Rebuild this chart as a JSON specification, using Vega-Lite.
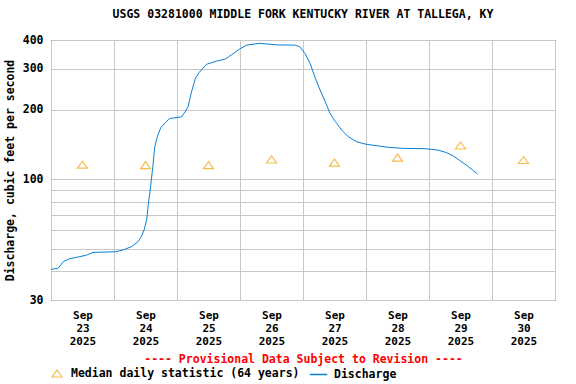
{
  "$schema": "https://vega.github.io/schema/vega-lite/v6.json",
  "autosize": {"type": "none"},
  "padding": {"left": 51, "top": 40, "right": 21, "bottom": 84},
  "width": 504,
  "height": 260,
  "background": "white",
  "config": {
    "view": {"stroke": "black", "strokeWidth": 1},
    "font": "DejaVu Sans Mono"
  },
  "title": {
    "text": "USGS 03281000 MIDDLE FORK KENTUCKY RIVER AT TALLEGA, KY",
    "font": "DejaVu Sans Mono",
    "fontSize": 11.5,
    "fontWeight": "bold",
    "color": "black",
    "anchor": "middle",
    "offset": 14
  },
  "datasets": {
    "discharge": [
      {"t": "2025-09-23T00:00:00Z", "q": 40.7, "series": "Discharge"},
      {"t": "2025-09-23T02:45:00Z", "q": 41.2, "series": "Discharge"},
      {"t": "2025-09-23T04:45:00Z", "q": 44.0, "series": "Discharge"},
      {"t": "2025-09-23T07:15:00Z", "q": 45.3, "series": "Discharge"},
      {"t": "2025-09-23T10:30:00Z", "q": 46.1, "series": "Discharge"},
      {"t": "2025-09-23T13:30:00Z", "q": 46.9, "series": "Discharge"},
      {"t": "2025-09-23T16:00:00Z", "q": 48.2, "series": "Discharge"},
      {"t": "2025-09-24T00:30:00Z", "q": 48.5, "series": "Discharge"},
      {"t": "2025-09-24T03:30:00Z", "q": 49.4, "series": "Discharge"},
      {"t": "2025-09-24T06:45:00Z", "q": 51.1, "series": "Discharge"},
      {"t": "2025-09-24T09:15:00Z", "q": 53.8, "series": "Discharge"},
      {"t": "2025-09-24T10:30:00Z", "q": 56.6, "series": "Discharge"},
      {"t": "2025-09-24T11:30:00Z", "q": 60.5, "series": "Discharge"},
      {"t": "2025-09-24T12:30:00Z", "q": 67.1, "series": "Discharge"},
      {"t": "2025-09-24T13:00:00Z", "q": 76.7, "series": "Discharge"},
      {"t": "2025-09-24T14:00:00Z", "q": 94.4, "series": "Discharge"},
      {"t": "2025-09-24T14:45:00Z", "q": 112, "series": "Discharge"},
      {"t": "2025-09-24T15:30:00Z", "q": 137.5, "series": "Discharge"},
      {"t": "2025-09-24T16:30:00Z", "q": 152.6, "series": "Discharge"},
      {"t": "2025-09-24T17:45:00Z", "q": 166.4, "series": "Discharge"},
      {"t": "2025-09-24T19:30:00Z", "q": 175.5, "series": "Discharge"},
      {"t": "2025-09-24T21:15:00Z", "q": 183, "series": "Discharge"},
      {"t": "2025-09-25T01:45:00Z", "q": 186, "series": "Discharge"},
      {"t": "2025-09-25T03:00:00Z", "q": 195, "series": "Discharge"},
      {"t": "2025-09-25T04:15:00Z", "q": 206, "series": "Discharge"},
      {"t": "2025-09-25T05:30:00Z", "q": 238, "series": "Discharge"},
      {"t": "2025-09-25T07:00:00Z", "q": 273, "series": "Discharge"},
      {"t": "2025-09-25T08:30:00Z", "q": 290, "series": "Discharge"},
      {"t": "2025-09-25T11:15:00Z", "q": 314, "series": "Discharge"},
      {"t": "2025-09-25T15:00:00Z", "q": 324, "series": "Discharge"},
      {"t": "2025-09-25T18:15:00Z", "q": 330, "series": "Discharge"},
      {"t": "2025-09-25T20:45:00Z", "q": 345, "series": "Discharge"},
      {"t": "2025-09-25T23:45:00Z", "q": 365, "series": "Discharge"},
      {"t": "2025-09-26T02:30:00Z", "q": 380, "series": "Discharge"},
      {"t": "2025-09-26T07:30:00Z", "q": 387, "series": "Discharge"},
      {"t": "2025-09-26T14:00:00Z", "q": 381, "series": "Discharge"},
      {"t": "2025-09-26T21:00:00Z", "q": 380, "series": "Discharge"},
      {"t": "2025-09-26T22:45:00Z", "q": 374, "series": "Discharge"},
      {"t": "2025-09-27T00:45:00Z", "q": 350, "series": "Discharge"},
      {"t": "2025-09-27T02:45:00Z", "q": 316, "series": "Discharge"},
      {"t": "2025-09-27T04:30:00Z", "q": 277, "series": "Discharge"},
      {"t": "2025-09-27T06:30:00Z", "q": 243, "series": "Discharge"},
      {"t": "2025-09-27T08:30:00Z", "q": 216, "series": "Discharge"},
      {"t": "2025-09-27T10:15:00Z", "q": 193, "series": "Discharge"},
      {"t": "2025-09-27T12:15:00Z", "q": 178, "series": "Discharge"},
      {"t": "2025-09-27T14:45:00Z", "q": 163, "series": "Discharge"},
      {"t": "2025-09-27T17:15:00Z", "q": 152.6, "series": "Discharge"},
      {"t": "2025-09-27T20:30:00Z", "q": 145, "series": "Discharge"},
      {"t": "2025-09-28T00:15:00Z", "q": 141.4, "series": "Discharge"},
      {"t": "2025-09-28T05:15:00Z", "q": 139, "series": "Discharge"},
      {"t": "2025-09-28T08:30:00Z", "q": 137.2, "series": "Discharge"},
      {"t": "2025-09-28T14:15:00Z", "q": 135.9, "series": "Discharge"},
      {"t": "2025-09-28T22:30:00Z", "q": 135.5, "series": "Discharge"},
      {"t": "2025-09-29T03:30:00Z", "q": 133.5, "series": "Discharge"},
      {"t": "2025-09-29T06:45:00Z", "q": 130.2, "series": "Discharge"},
      {"t": "2025-09-29T09:15:00Z", "q": 126, "series": "Discharge"},
      {"t": "2025-09-29T11:45:00Z", "q": 120.3, "series": "Discharge"},
      {"t": "2025-09-29T14:30:00Z", "q": 114.5, "series": "Discharge"},
      {"t": "2025-09-29T17:00:00Z", "q": 108.6, "series": "Discharge"},
      {"t": "2025-09-29T18:30:00Z", "q": 105.2, "series": "Discharge"}
    ],
    "median": [
      {"t": "2025-09-23T12:00:00Z", "q": 115.5, "stat": "Median daily statistic (64 years)"},
      {"t": "2025-09-24T12:00:00Z", "q": 115, "stat": "Median daily statistic (64 years)"},
      {"t": "2025-09-25T12:00:00Z", "q": 115, "stat": "Median daily statistic (64 years)"},
      {"t": "2025-09-26T12:00:00Z", "q": 121.6, "stat": "Median daily statistic (64 years)"},
      {"t": "2025-09-27T12:00:00Z", "q": 118, "stat": "Median daily statistic (64 years)"},
      {"t": "2025-09-28T12:00:00Z", "q": 124, "stat": "Median daily statistic (64 years)"},
      {"t": "2025-09-29T12:00:00Z", "q": 139.8, "stat": "Median daily statistic (64 years)"},
      {"t": "2025-09-30T12:00:00Z", "q": 121, "stat": "Median daily statistic (64 years)"}
    ]
  },
  "encoding": {
    "x": {
      "field": "t",
      "type": "temporal",
      "scale": {
        "type": "utc",
        "domain": [
          {"year": 2025, "month": "Sep", "date": 23, "utc": true},
          {"year": 2025, "month": "Oct", "date": 1, "utc": true}
        ]
      },
      "axis": {
        "title": "---- Provisional Data Subject to Revision ----",
        "titleColor": "#ff0000",
        "titleFont": "DejaVu Sans Mono",
        "titleFontSize": 11.5,
        "titleFontWeight": "bold",
        "titlePadding": 7,
        "values": [
          {"year": 2025, "month": "Sep", "date": 23, "hours": 0, "utc": true},
          {"year": 2025, "month": "Sep", "date": 23, "hours": 12, "utc": true},
          {"year": 2025, "month": "Sep", "date": 24, "hours": 0, "utc": true},
          {"year": 2025, "month": "Sep", "date": 24, "hours": 12, "utc": true},
          {"year": 2025, "month": "Sep", "date": 25, "hours": 0, "utc": true},
          {"year": 2025, "month": "Sep", "date": 25, "hours": 12, "utc": true},
          {"year": 2025, "month": "Sep", "date": 26, "hours": 0, "utc": true},
          {"year": 2025, "month": "Sep", "date": 26, "hours": 12, "utc": true},
          {"year": 2025, "month": "Sep", "date": 27, "hours": 0, "utc": true},
          {"year": 2025, "month": "Sep", "date": 27, "hours": 12, "utc": true},
          {"year": 2025, "month": "Sep", "date": 28, "hours": 0, "utc": true},
          {"year": 2025, "month": "Sep", "date": 28, "hours": 12, "utc": true},
          {"year": 2025, "month": "Sep", "date": 29, "hours": 0, "utc": true},
          {"year": 2025, "month": "Sep", "date": 29, "hours": 12, "utc": true},
          {"year": 2025, "month": "Sep", "date": 30, "hours": 0, "utc": true},
          {"year": 2025, "month": "Sep", "date": 30, "hours": 12, "utc": true},
          {"year": 2025, "month": "Oct", "date": 1, "hours": 0, "utc": true}
        ],
        "labelExpr": "utchours(datum.value) == 12 ? [utcFormat(datum.value, '%b'), utcFormat(datum.value, '%d'), utcFormat(datum.value, '%Y')] : ''",
        "labelFont": "DejaVu Sans Mono",
        "labelFontSize": 11,
        "labelFontWeight": "bold",
        "labelColor": "black",
        "labelLineHeight": 13,
        "labelPadding": 9,
        "labelOverlap": false,
        "labelFlush": false,
        "labelBound": false,
        "ticks": false,
        "domain": false,
        "grid": true,
        "gridColor": "#c8c8c8",
        "gridWidth": 1,
        "gridOpacity": {"condition": {"test": "utchours(datum.value) == 12", "value": 0}, "value": 1}
      }
    },
    "y": {
      "field": "q",
      "type": "quantitative",
      "scale": {"type": "log", "domain": [30, 400], "nice": false},
      "axis": {
        "title": "Discharge, cubic feet per second",
        "titleFont": "DejaVu Sans Mono",
        "titleFontSize": 11.5,
        "titleFontWeight": "bold",
        "titleColor": "black",
        "titlePadding": 7,
        "values": [30, 40, 50, 60, 70, 80, 90, 100, 200, 300, 400],
        "labelExpr": "indexof([30, 100, 200, 300, 400], datum.value) >= 0 ? format(datum.value, 'd') : ''",
        "labelFont": "DejaVu Sans Mono",
        "labelFontSize": 11.5,
        "labelFontWeight": "bold",
        "labelColor": "black",
        "labelPadding": 8,
        "labelOverlap": false,
        "labelFlush": false,
        "ticks": false,
        "domain": false,
        "grid": true,
        "gridColor": "#c8c8c8",
        "gridWidth": 1
      }
    }
  },
  "layer": [
    {
      "data": {"name": "discharge"},
      "mark": {"type": "line", "strokeWidth": 1, "interpolate": "linear"},
      "encoding": {
        "color": {
          "field": "series",
          "type": "nominal",
          "scale": {"domain": ["Discharge"], "range": ["#0a7fd4"]},
          "legend": {
            "orient": "none",
            "legendX": 258,
            "legendY": 325,
            "title": null,
            "symbolType": "stroke",
            "symbolSize": 300,
            "symbolStrokeWidth": 1.5,
            "labelFont": "DejaVu Sans Mono",
            "labelFontSize": 11.5,
            "labelFontWeight": "bold",
            "labelColor": "black",
            "labelOffset": 6,
            "labelLimit": 0,
            "padding": 0
          }
        }
      }
    },
    {
      "data": {"name": "median"},
      "mark": {"type": "point", "filled": false, "strokeWidth": 1.2, "color": "#f5a000", "size": 100},
      "encoding": {
        "shape": {
          "field": "stat",
          "type": "nominal",
          "scale": {"domain": ["Median daily statistic (64 years)"], "range": ["M-1,0.7L1,0.7L0,-0.7Z"]},
          "legend": {
            "orient": "none",
            "legendX": 0,
            "legendY": 327.5,
            "title": null,
            "symbolStrokeColor": "#f5a000",
            "symbolFillColor": "transparent",
            "symbolStrokeWidth": 1.2,
            "symbolSize": 100,
            "labelFont": "DejaVu Sans Mono",
            "labelFontSize": 11.5,
            "labelFontWeight": "bold",
            "labelColor": "black",
            "labelOffset": 8,
            "labelLimit": 0,
            "padding": 0
          }
        }
      }
    }
  ]
}
